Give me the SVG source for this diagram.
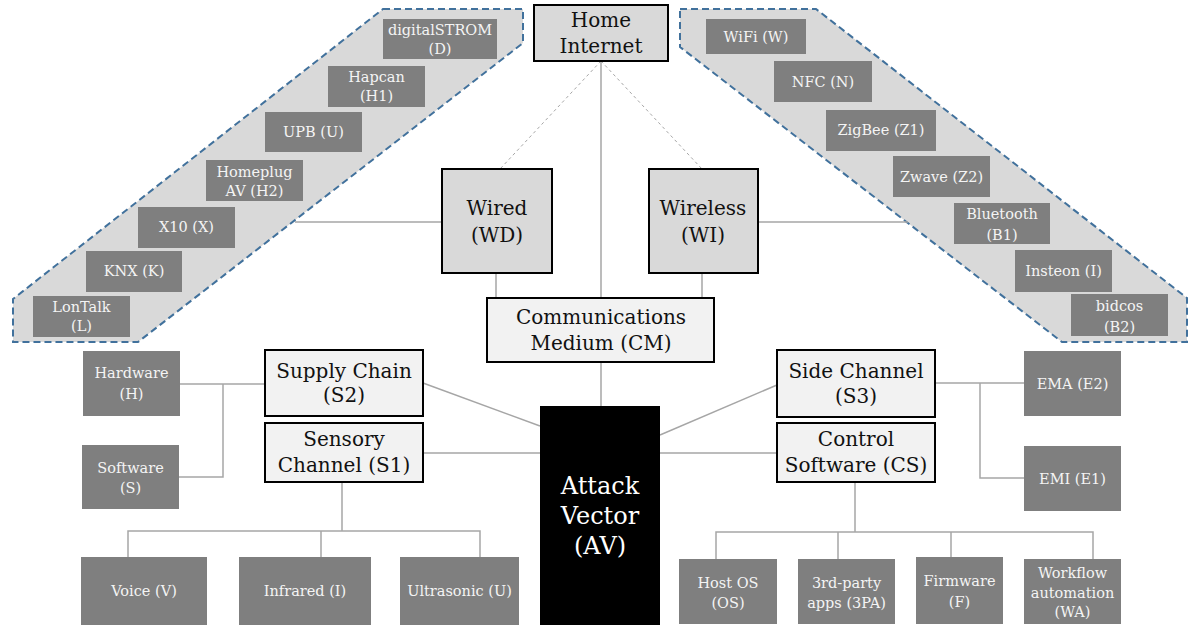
<svg xmlns="http://www.w3.org/2000/svg" width="1200" height="632" viewBox="0 0 1200 632">
<style>
text{font-family:"DejaVu Serif","Liberation Serif",serif;text-anchor:middle;dominant-baseline:central}
.main{fill:#d9d9d9;stroke:#000;stroke-width:2}
.sub{fill:#f2f2f2;stroke:#000;stroke-width:2}
.leaf{fill:#7f7f7f}
.lt{fill:#f4f4f4;font-size:14.5px}
.bt{fill:#111;font-size:20px}
.grp{fill:#d9d9d9;stroke:#41719c;stroke-width:2;stroke-dasharray:7 4}
.ln{stroke:#a6a6a6;stroke-width:1.5;fill:none}
.dl{stroke:#a6a6a6;stroke-width:1;fill:none;stroke-dasharray:3 3}
</style>
<rect width="1200" height="632" fill="#fff"/>
<g id="groups">
<polygon class="grp" points="383,9 523,9 523,43 138,342 13,342 13,299"/>
<polygon class="grp" points="680,9 816,9 1187,298 1187,342 1062,342 680,47"/>
</g>
<g id="connectors">
<line class="ln" x1="601" y1="61" x2="601" y2="298"/>
<line class="dl" x1="601" y1="61" x2="500" y2="169"/>
<line class="dl" x1="601" y1="61" x2="702" y2="169"/>
<line class="ln" x1="496" y1="273" x2="496" y2="298"/>
<line class="ln" x1="702" y1="273" x2="702" y2="298"/>
<line class="ln" x1="442" y1="222" x2="295" y2="222"/>
<line class="ln" x1="758" y1="222" x2="908" y2="222"/>
<line class="ln" x1="601" y1="362" x2="601" y2="406"/>
<line class="ln" x1="423" y1="383" x2="540" y2="426"/>
<line class="ln" x1="423" y1="453" x2="540" y2="453"/>
<line class="ln" x1="777" y1="385" x2="660" y2="435"/>
<line class="ln" x1="777" y1="453" x2="660" y2="453"/>
<polyline class="ln" points="180,384 265,384"/>
<polyline class="ln" points="223,384 223,477 179,477"/>
<polyline class="ln" points="935,383 1024,383"/>
<polyline class="ln" points="980,383 980,478 1024,478"/>
<line class="ln" x1="342" y1="482" x2="342" y2="531"/>
<polyline class="ln" points="128,557 128,531 480,531 480,557"/>
<line class="ln" x1="321" y1="531" x2="321" y2="557"/>
<line class="ln" x1="855" y1="482" x2="855" y2="532"/>
<polyline class="ln" points="716,559 716,532 1093,532 1093,559"/>
<line class="ln" x1="838" y1="532" x2="838" y2="559"/>
<line class="ln" x1="951" y1="532" x2="951" y2="557"/>
</g>
<g id="HI"><rect class="main" x="534" y="5" width="134" height="56"/><text class="bt" x="601" y="20">Home</text><text class="bt" x="601" y="46">Internet</text></g>
<g id="WD"><rect class="main" x="442" y="169" width="110" height="104"/><text class="bt" x="497" y="208">Wired</text><text class="bt" x="497" y="235">(WD)</text></g>
<g id="WI"><rect class="main" x="649" y="169" width="109" height="104"/><text class="bt" x="703" y="208">Wireless</text><text class="bt" x="703" y="235">(WI)</text></g>
<g id="CM"><rect class="sub" x="487" y="298" width="227" height="64"/><text class="bt" x="601" y="317">Communications</text><text class="bt" x="601" y="343">Medium (CM)</text></g>
<g id="AV"><rect x="540" y="406" width="120" height="219" fill="#000"/><text x="600" y="486" fill="#fff" font-size="24">Attack</text><text x="600" y="516" fill="#fff" font-size="24">Vector</text><text x="600" y="546" fill="#fff" font-size="24">(AV)</text></g>
<g id="S2"><rect class="sub" x="265" y="350" width="158" height="66"/><text class="bt" x="344" y="371">Supply Chain</text><text class="bt" x="344" y="395">(S2)</text></g>
<g id="S1"><rect class="sub" x="265" y="423" width="158" height="59"/><text class="bt" x="344" y="439">Sensory</text><text class="bt" x="344" y="465">Channel (S1)</text></g>
<g id="S3"><rect class="sub" x="777" y="350" width="158" height="67"/><text class="bt" x="856" y="371">Side Channel</text><text class="bt" x="856" y="396">(S3)</text></g>
<g id="CS"><rect class="sub" x="777" y="423" width="158" height="59"/><text class="bt" x="856" y="439">Control</text><text class="bt" x="856" y="465">Software (CS)</text></g>
<g id="D"><rect class="leaf" x="383" y="19" width="114" height="40"/><text class="lt" x="440" y="30">digitalSTROM</text><text class="lt" x="440" y="49">(D)</text></g>
<g id="H1"><rect class="leaf" x="328" y="66" width="97" height="41"/><text class="lt" x="376.5" y="77">Hapcan</text><text class="lt" x="376.5" y="96">(H1)</text></g>
<g id="U"><rect class="leaf" x="265" y="112" width="97" height="40"/><text class="lt" x="313.5" y="132">UPB (U)</text></g>
<g id="H2"><rect class="leaf" x="206" y="160" width="97" height="41"/><text class="lt" x="254.5" y="172">Homeplug</text><text class="lt" x="254.5" y="191">AV (H2)</text></g>
<g id="X"><rect class="leaf" x="138" y="207" width="97" height="41"/><text class="lt" x="186.5" y="227">X10 (X)</text></g>
<g id="K"><rect class="leaf" x="86" y="251" width="96" height="41"/><text class="lt" x="134" y="271">KNX (K)</text></g>
<g id="L"><rect class="leaf" x="33" y="296" width="97" height="41"/><text class="lt" x="81.5" y="307">LonTalk</text><text class="lt" x="81.5" y="326">(L)</text></g>
<g id="W"><rect class="leaf" x="706" y="19" width="100" height="35"/><text class="lt" x="756" y="37">WiFi (W)</text></g>
<g id="N"><rect class="leaf" x="774" y="61" width="98" height="41"/><text class="lt" x="823" y="82">NFC (N)</text></g>
<g id="Z1"><rect class="leaf" x="826" y="110" width="110" height="41"/><text class="lt" x="881" y="130">ZigBee (Z1)</text></g>
<g id="Z2"><rect class="leaf" x="893" y="156" width="97" height="41"/><text class="lt" x="941.5" y="177">Zwave (Z2)</text></g>
<g id="B1"><rect class="leaf" x="954" y="203" width="96" height="41"/><text class="lt" x="1002" y="214">Bluetooth</text><text class="lt" x="1002" y="235">(B1)</text></g>
<g id="I"><rect class="leaf" x="1015" y="250" width="97" height="42"/><text class="lt" x="1063.5" y="271">Insteon (I)</text></g>
<g id="B2"><rect class="leaf" x="1071" y="294" width="97" height="42"/><text class="lt" x="1119.5" y="306">bidcos</text><text class="lt" x="1119.5" y="327">(B2)</text></g>
<g id="H"><rect class="leaf" x="83" y="351" width="97" height="65"/><text class="lt" x="131.5" y="373">Hardware</text><text class="lt" x="131.5" y="394">(H)</text></g>
<g id="S"><rect class="leaf" x="82" y="445" width="97" height="64"/><text class="lt" x="130.5" y="468">Software</text><text class="lt" x="130.5" y="488">(S)</text></g>
<g id="V"><rect class="leaf" x="81" y="557" width="126" height="68"/><text class="lt" x="144" y="591">Voice (V)</text></g>
<g id="IR"><rect class="leaf" x="239" y="557" width="132" height="68"/><text class="lt" x="305" y="591">Infrared (I)</text></g>
<g id="US"><rect class="leaf" x="400" y="557" width="119" height="68"/><text class="lt" x="459.5" y="591">Ultrasonic (U)</text></g>
<g id="E2"><rect class="leaf" x="1024" y="351" width="97" height="65"/><text class="lt" x="1072.5" y="384">EMA (E2)</text></g>
<g id="E1"><rect class="leaf" x="1024" y="446" width="97" height="65"/><text class="lt" x="1072.5" y="479">EMI (E1)</text></g>
<g id="OS"><rect class="leaf" x="679" y="559" width="98" height="65"/><text class="lt" x="728" y="583">Host OS</text><text class="lt" x="728" y="603">(OS)</text></g>
<g id="PA"><rect class="leaf" x="798" y="559" width="97" height="65"/><text class="lt" x="846.5" y="583">3rd-party</text><text class="lt" x="846.5" y="603">apps (3PA)</text></g>
<g id="F"><rect class="leaf" x="916" y="557" width="87" height="67"/><text class="lt" x="959.5" y="581">Firmware</text><text class="lt" x="959.5" y="602">(F)</text></g>
<g id="WA"><rect class="leaf" x="1024" y="559" width="97" height="65"/><text class="lt" x="1072.5" y="573">Workflow</text><text class="lt" x="1072.5" y="593">automation</text><text class="lt" x="1072.5" y="612">(WA)</text></g>
</svg>
